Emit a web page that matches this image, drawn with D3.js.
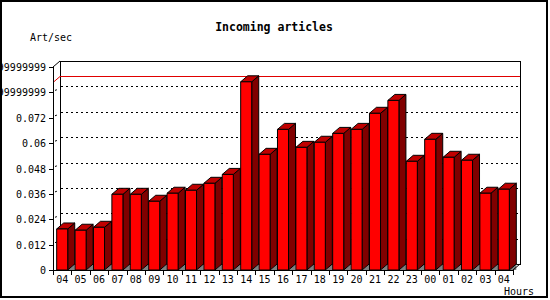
<html>

<head>
    <script src="https://cdnjs.cloudflare.com/ajax/libs/d3/7.8.5/d3.min.js"></script>
    <style>
        body { margin: 0; background: #fff; }
        text { font-family: "DejaVu Sans Mono", monospace; }
    </style>
</head>

<body>
    <script>
        var hours = ["04", "05", "06", "07", "08", "09", "10", "11", "12", "13", "14", "15", "16",
            "17", "18", "19", "20", "21", "22", "23", "00", "01", "02", "03", "04"];
        var artPerSec = [0.0194, 0.0188, 0.0202, 0.0358, 0.0358, 0.0325, 0.0363, 0.0377, 0.0410,
            0.0452, 0.0890, 0.0547, 0.0665, 0.0580, 0.0604, 0.0646, 0.0665, 0.0741, 0.0802,
            0.0514, 0.0618, 0.0533, 0.0519, 0.0363, 0.0382];
        var yTicks = [0, 0.012, 0.024, 0.036, 0.048, 0.06, 0.072, 0.084, 0.096];
        var yTickLabels = ["0", "0.012", "0.024", "0.036", "0.048", "0.06", "0.072",
            "0.08399999999", "0.09599999999"];

        var w = 550, h = 300;
        var dx = 7, dy = -6; // 3d depth

        var svg = d3.select("body").append("svg")
            .attr("width", w)
            .attr("height", h);

        svg.append("rect")
            .attr("x", 1).attr("y", 1)
            .attr("width", 546).attr("height", 296)
            .attr("fill", "#fff")
            .attr("stroke", "#000")
            .attr("stroke-width", 2);

        var x = d3.scaleBand()
            .domain(d3.range(hours.length))
            .range([53, 513])
            .paddingInner(0.4)
            .paddingOuter(0.2);

        var y = d3.scaleLinear()
            .domain([0, 0.096])
            .range([270, 67]);

        // back wall
        svg.append("rect")
            .attr("x", 53 + dx + 0.5).attr("y", y(0.096) + dy + 0.5)
            .attr("width", 460).attr("height", y(0) - y(0.096))
            .attr("fill", "#fff")
            .attr("stroke", "#000");

        // grid lines on back wall + slanted side pieces
        var grid = svg.append("g")
            .attr("stroke", "#000")
            .attr("stroke-dasharray", "2,3");
        grid.selectAll("line.g")
            .data(yTicks.slice(1, -1))
            .enter().append("line")
            .attr("x1", 53 + dx + 1).attr("x2", 513 + dx)
            .attr("y1", function (d) { return Math.round(y(d) + dy) + 0.5; })
            .attr("y2", function (d) { return Math.round(y(d) + dy) + 0.5; });
        grid.selectAll("line.s")
            .data(yTicks.slice(1, -1))
            .enter().append("line")
            .attr("stroke-dasharray", null)
            .attr("x1", 55).attr("x2", 58)
            .attr("y1", function (d) { return y(d) - 2; })
            .attr("y2", function (d) { return y(d) + dy + 3; });

        // max line
        var maxVal = d3.max(artPerSec);
        var my = Math.round(y(maxVal) + dy) + 0.5;
        svg.append("polyline")
            .attr("points", [[53, my - dy], [53 + dx, my], [513 + dx, my]].join(" "))
            .attr("fill", "none")
            .attr("stroke", "#e00000");

        // bars
        var bars = svg.selectAll("g.bar")
            .data(artPerSec)
            .enter().append("g")
            .attr("stroke", "#000")
            .attr("stroke-width", 1)
            .attr("stroke-linejoin", "round");

        bars.append("polygon") // floor shadow
            .attr("fill", "#808080")
            .attr("stroke", "none")
            .attr("points", function (d, i) {
                var x1 = x(i) + x.bandwidth();
                return [[x1, y(0)], [x1 + dx, y(0) + dy], [x1 + dx, y(0)]].join(" ");
            });
        bars.append("polygon") // side
            .attr("fill", "#800000")
            .attr("points", function (d, i) {
                var x1 = x(i) + x.bandwidth();
                return [[x1, y(d)], [x1 + dx, y(d) + dy], [x1 + dx, y(0) + dy], [x1, y(0)]].join(" ");
            });
        bars.append("polygon") // top
            .attr("fill", "#c00000")
            .attr("points", function (d, i) {
                var x0 = x(i), x1 = x(i) + x.bandwidth();
                return [[x0, y(d)], [x0 + dx, y(d) + dy], [x1 + dx, y(d) + dy], [x1, y(d)]].join(" ");
            });
        bars.append("rect") // front
            .attr("fill", "#ff0000")
            .attr("x", function (d, i) { return x(i); })
            .attr("y", function (d) { return y(d); })
            .attr("width", x.bandwidth())
            .attr("height", function (d) { return y(0) - y(d); });

        // axes frame
        var frame = svg.append("g").attr("stroke", "#000").attr("fill", "none");
        frame.append("line").attr("x1", 53.5).attr("x2", 53.5).attr("y1", y(0.096)).attr("y2", y(0) + 0.5);
        frame.append("line").attr("x1", 53).attr("x2", 60).attr("y1", y(0.096)).attr("y2", y(0.096) + dy);
        frame.append("line").attr("x1", 53).attr("x2", 513).attr("y1", y(0) + 0.5).attr("y2", y(0) + 0.5);
        frame.append("line").attr("x1", 513).attr("x2", 520).attr("y1", y(0)).attr("y2", y(0) + dy);

        // y ticks and labels
        frame.selectAll("line.yt")
            .data(yTicks)
            .enter().append("line")
            .attr("x1", 49).attr("x2", 53)
            .attr("y1", function (d) { return Math.round(y(d)) + 0.5; })
            .attr("y2", function (d) { return Math.round(y(d)) + 0.5; });
        svg.selectAll("text.yl")
            .data(yTicks)
            .enter().append("text")
            .attr("x", 46)
            .attr("y", function (d) { return y(d) + 4; })
            .attr("text-anchor", "end")
            .attr("font-size", 10)
            .text(function (d, i) { return yTickLabels[i]; });

        // x ticks and labels
        var step = x.step();
        frame.selectAll("line.xt")
            .data(d3.range(hours.length + 1))
            .enter().append("line")
            .attr("x1", function (i) { return Math.round(53 + i * step) + 0.5; })
            .attr("x2", function (i) { return Math.round(53 + i * step) + 0.5; })
            .attr("y1", y(0)).attr("y2", y(0) + 5);
        svg.selectAll("text.xl")
            .data(hours)
            .enter().append("text")
            .attr("x", function (d, i) { return x(i) + x.bandwidth() / 2; })
            .attr("y", 283)
            .attr("text-anchor", "middle")
            .attr("font-size", 10)
            .text(function (d) { return d; });

        svg.append("text")
            .attr("x", 274).attr("y", 31)
            .attr("text-anchor", "middle")
            .attr("font-size", 11.5)
            .attr("font-weight", "bold")
            .text("Incoming articles");
        svg.append("text")
            .attr("x", 30).attr("y", 41)
            .attr("font-size", 10)
            .text("Art/sec");
        svg.append("text")
            .attr("x", 504).attr("y", 295)
            .attr("font-size", 10)
            .text("Hours");
    </script>
</body>

</html>
